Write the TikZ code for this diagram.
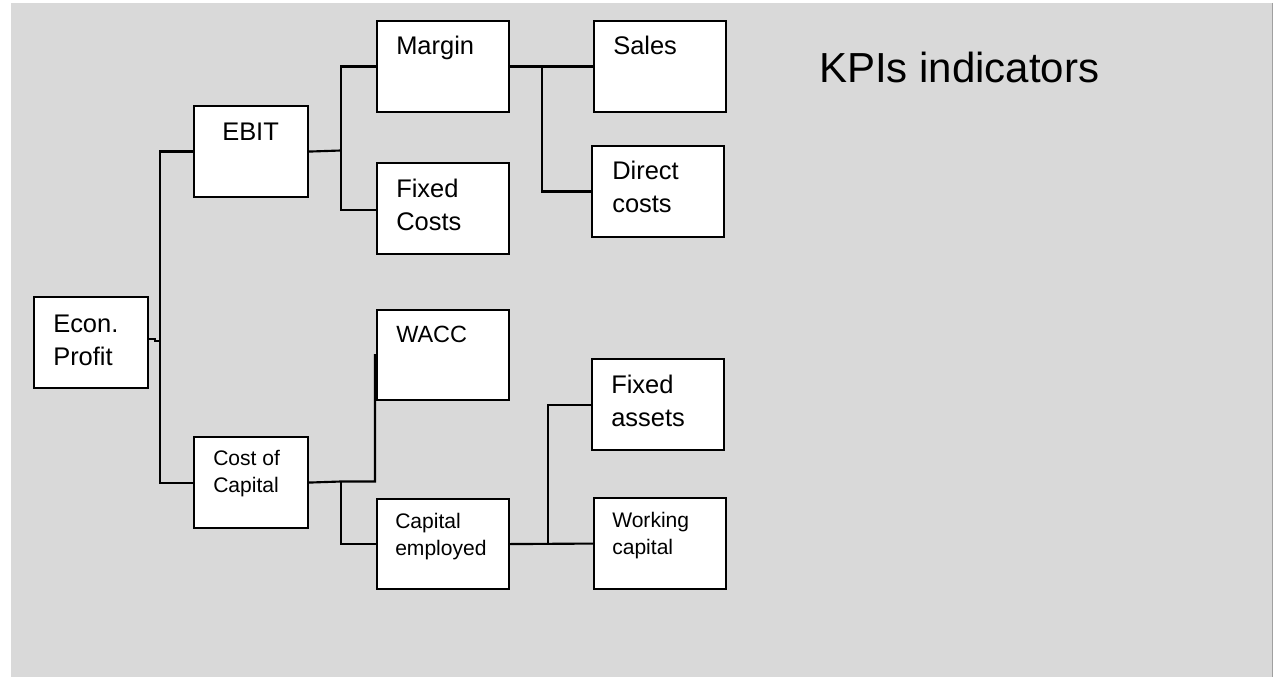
\documentclass[tikz,border=0pt]{standalone}
\usepackage{fontspec}
\setmainfont{Liberation Sans}
\usetikzlibrary{calc}
\definecolor{bggray}{HTML}{D9D9D9}
\definecolor{edgegray}{HTML}{A0A0A0}
\tikzset{
  box/.style={draw=black, fill=white, line width=1.6pt, rectangle, inner sep=0pt, anchor=north west, minimum height=68.25pt},
  wbox/.style={box, minimum width=85.5pt},
  bbox/.style={box, minimum width=99pt},
  lbl/.style={anchor=base west, inner sep=0pt, align=left, font=\fontsize{19.1}{24.75}\selectfont},
  slbl/.style={anchor=base west, inner sep=0pt, align=left, font=\fontsize{15.8}{19.7}\selectfont},
  conn/.style={draw=black, line width=1.6pt},
}
\begin{document}
\begin{tikzpicture}[x=0.75pt,y=-0.75pt]
\useasboundingbox (0,0) rectangle (1273,677);
\fill[bggray] (11,3) rectangle (1273,677);
\draw[edgegray, line width=0.9pt] (1272.4,3) -- (1272.4,677);

% boxes
\node[wbox] (econ) at (33,296) {};
\node[wbox] (ebit) at (193,105) {};
\node[wbox] (coc) at (193,436) {};
\node[bbox] (margin) at (376,20) {};
\node[bbox] (fixed) at (376,162) {};
\node[bbox] (sales) at (593,20) {};
\node[bbox] (direct) at (591,145) {};
\node[bbox, minimum height=67.5pt] (wacc) at (376,309) {};
\node[bbox, minimum height=67.5pt] (capemp) at (376,498) {};
\node[bbox] (fassets) at (591,358) {};
\node[bbox] (work) at (593,497) {};

% texts (multi-line: position is the baseline of the last line)
\node[lbl] (econ-t) at (53,365) {Econ.\\Profit};
\node[lbl] (ebit-t) at (222,141) {EBIT};
\node[slbl] (coc-t) at (213,492) {Cost of\\Capital};
\node[lbl] (margin-t) at (396,55) {Margin};
\node[lbl] (fixed-t) at (396,231) {Fixed\\Costs};
\node[lbl] (sales-t) at (613,55) {Sales};
\node[lbl] (direct-t) at (612,213) {Direct\\costs};
\node[anchor=base west, inner sep=0pt, font=\fontsize{17.6}{20}\selectfont] (wacc-t) at (396,342) {WACC};
\node[slbl] (capemp-t) at (395,555) {Capital\\employed};
\node[lbl] (fassets-t) at (611,426) {Fixed\\assets};
\node[slbl] (work-t) at (612,554) {Working\\capital};
\node[anchor=base west, inner sep=0pt, font=\fontsize{31.5}{36}\selectfont] (title) at (819,83) {KPIs indicators};

% connectors
\coordinate (b1) at (160,341);
\draw[conn] ($(econ.north east)+(0,43)$) -- ++(6,0) -- ++(0,2) -- (b1);
\draw[conn] (ebit.west) -| (b1) |- (coc.west);

\coordinate (b2) at (341,150.5);
\draw[conn] (ebit.east) -- (b2);
\draw[conn] (margin.west) -| (b2) |- ($(fixed.north west)+(0,48)$);

\draw[conn] (margin.east) -- (sales.west);
\coordinate (j1) at (542,67);
\draw[conn] (j1) |- (direct.west);

\coordinate (b3) at (341,481.5);
\draw[conn] (coc.east) -- (b3) -- (375,481.5) -- ($(wacc.north west)+(-1,45)$);
\draw[conn] (b3) |- (capemp.west);

\draw[conn] (capemp.east) -- (work.west);
\coordinate (j2) at (548,543);
\draw[conn] (j2) |- (fassets.west);
\end{tikzpicture}
\end{document}
